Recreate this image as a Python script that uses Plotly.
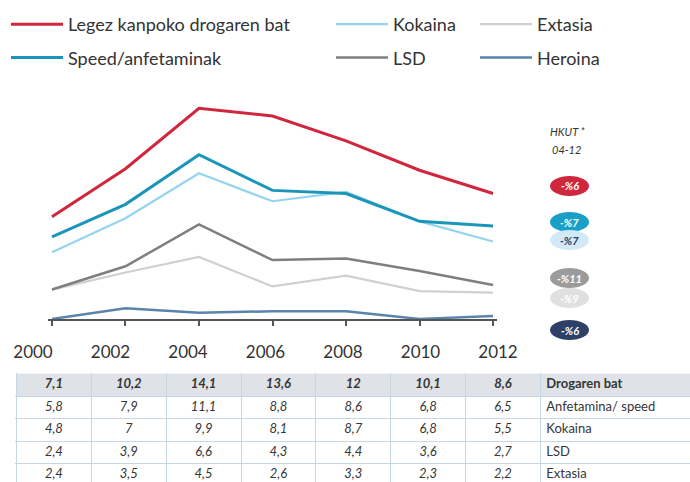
import plotly.graph_objects as go

# Survey years and prevalence series (%)
years = [2000, 2002, 2004, 2006, 2008, 2010, 2012]
any_drug = [7.1, 10.2, 14.1, 13.6, 12, 10.1, 8.6]
speed = [5.8, 7.9, 11.1, 8.8, 8.6, 6.8, 6.5]
cocaine = [4.8, 7, 9.9, 8.1, 8.7, 6.8, 5.5]
lsd = [2.4, 3.9, 6.6, 4.3, 4.4, 3.6, 2.7]
ecstasy = [2.4, 3.5, 4.5, 2.6, 3.3, 2.3, 2.2]
heroin = [0.5, 1.2, 0.9, 1.0, 1.0, 0.5, 0.7]

year_labels = [str(y) for y in years]

# Annual growth rate 2004-2012 badges
badge_labels = ["-%6", "-%7", "-%7", "-%11", "-%9", "-%6"]

# Table row names
row_names = ["Drogaren bat", "Anfetamina/ speed", "Kokaina", "LSD", "Extasia"]

W, H = 690, 482
FONT = "Lato"
TXT = "#333333"
GRID = "#c8d5e2"


def px(x):
    return x / W


def py(y):
    return (H - y) / H


series = [
    # name, values, colour, width, legend, rank
    ("Heroina", heroin, "#5b84ad", 2.5, "legend3", 2),
    ("Extasia", ecstasy, "#d0d0d0", 2.2, "legend3", 1),
    ("LSD", lsd, "#7f7f7f", 2.5, "legend2", 2),
    ("Kokaina", cocaine, "#95d4ee", 2.2, "legend2", 1),
    ("Speed/anfetaminak", speed, "#1a96b8", 3, "legend", 2),
    ("Legez kanpoko drogaren bat", any_drug, "#d0263e", 3, "legend", 1),
]

fig = go.Figure()
for name, vals, col, w, leg, rank in series:
    fig.add_trace(go.Scatter(
        x=years, y=vals, mode="lines", name=name,
        line=dict(color=col, width=w),
        legend=leg, legendrank=rank, legendgroup=name,
        hoverinfo="skip",
    ))

# helper trace so the year-label axis is laid out
fig.add_trace(go.Scatter(x=years, y=[None] * len(years), xaxis="x2", yaxis="y",
                         mode="lines", showlegend=False, hoverinfo="skip"))


def fmt(v):
    return str(v).replace(".", ",")


# data table below the chart: one text row per series on its own axes
table_series = [any_drug, speed, cocaine, lsd, ecstasy]
col_centres = [j + 0.5 for j in range(len(years))]
label_col = len(years)
for r, (vals, rname) in enumerate(zip(table_series, row_names)):
    if r == 0:
        txt = ["<b><i>%s</i></b>" % fmt(v) for v in vals]
        lab = "<b>%s</b>" % rname
    else:
        txt = ["<i>%s</i>" % fmt(v) for v in vals]
        lab = rname
    fig.add_trace(go.Scatter(
        x=col_centres, y=[r + 0.5] * len(vals), text=txt, mode="text",
        textposition="middle center", xaxis="x3", yaxis="y3",
        textfont=dict(family=FONT, size=13, color="#363636"),
        showlegend=False, hoverinfo="skip"))
    fig.add_trace(go.Scatter(
        x=[label_col + 0.08], y=[r + 0.5], text=[lab], mode="text",
        textposition="middle right", xaxis="x3", yaxis="y3",
        textfont=dict(family=FONT, size=13, color="#363636"),
        showlegend=False, hoverinfo="skip"))

# rate badges on the right
badge_y = [186, 222, 240, 278, 298, 330]
badge_fill = ["#d0263e", "#1aa0c6", "#d2eaf7", "#9b9b9b", "#e0e0e0", "#2c4068"]
badge_txt = ["white", "white", "#2c4068", "white", "white", "white"]
shapes = [dict(type="rect", xref="x3", yref="y3", x0=0, x1=9, y0=0, y1=1,
               fillcolor="#dfe2e7", line=dict(width=0), layer="below")]
annotations = []
for yv, fc, tc, lab in zip(badge_y, badge_fill, badge_txt, badge_labels):
    shapes.append(dict(type="circle", xref="paper", yref="paper",
                       x0=px(550), x1=px(589), y0=py(yv + 10), y1=py(yv - 10),
                       fillcolor=fc, line=dict(width=0), layer="above"))
    annotations.append(dict(xref="paper", yref="paper", x=px(569.5), y=py(yv),
                            xanchor="center", yanchor="middle",
                            text="<b><i>%s</i></b>" % lab, showarrow=False,
                            font=dict(family=FONT, size=11, color=tc)))
annotations.append(dict(xref="paper", yref="paper", x=px(567), y=py(131),
                        xanchor="center", yanchor="middle",
                        text="<i>HKUT *</i>", showarrow=False,
                        font=dict(family=FONT, size=11, color=TXT)))
annotations.append(dict(xref="paper", yref="paper", x=px(566), y=py(149),
                        xanchor="center", yanchor="middle",
                        text="<i>04-12</i>", showarrow=False,
                        font=dict(family=FONT, size=11, color=TXT)))

leg_common = dict(orientation="v", xanchor="left", yanchor="top",
                  bgcolor="rgba(0,0,0,0)", borderwidth=0, tracegroupgap=7,
                  itemwidth=52, font=dict(family=FONT, size=18, color=TXT),
                  traceorder="grouped")

fig.update_layout(
    width=W, height=H,
    margin=dict(l=0, r=0, t=0, b=0, pad=0, autoexpand=False),
    paper_bgcolor="white", plot_bgcolor="rgba(0,0,0,0)",
    showlegend=True,
    xaxis=dict(domain=[px(48.3), px(496.7)], range=[1999.9, 2012.1],
               tickvals=years, showticklabels=False,
               ticks="outside", ticklen=5, tickwidth=2, tickcolor="#555555",
               showline=True, linecolor="#555555", linewidth=2,
               showgrid=False, zeroline=False, fixedrange=True),
    xaxis2=dict(domain=[px(33), px(498)], range=[2000, 2012],
                anchor="free", position=py(340),
                tickvals=years, ticktext=year_labels, ticks="",
                showline=False, showgrid=False, zeroline=False,
                tickfont=dict(family=FONT, size=17, color=TXT)),
    yaxis=dict(domain=[py(319), py(100.5)], range=[0.5, 14.6], visible=False,
               fixedrange=True),
    xaxis3=dict(domain=[px(15), 1], range=[-0.02, 9], anchor="y3",
                tickvals=list(range(len(years) + 1)), showticklabels=False,
                ticks="", showgrid=True, gridcolor=GRID, gridwidth=1,
                zeroline=False, showline=False, fixedrange=True),
    yaxis3=dict(domain=[0, py(373)], range=[4.82, -0.03], anchor="x3",
                tickvals=list(range(len(table_series) + 1)), showticklabels=False,
                ticks="", showgrid=True, gridcolor=GRID, gridwidth=1,
                zeroline=False, showline=False, fixedrange=True),
    legend=dict(x=px(6), y=py(6), **leg_common),
    legend2=dict(x=px(331), y=py(6), **leg_common),
    legend3=dict(x=px(475), y=py(6), **leg_common),
    shapes=shapes,
    annotations=annotations,
)

fig.write_html("out.html")
